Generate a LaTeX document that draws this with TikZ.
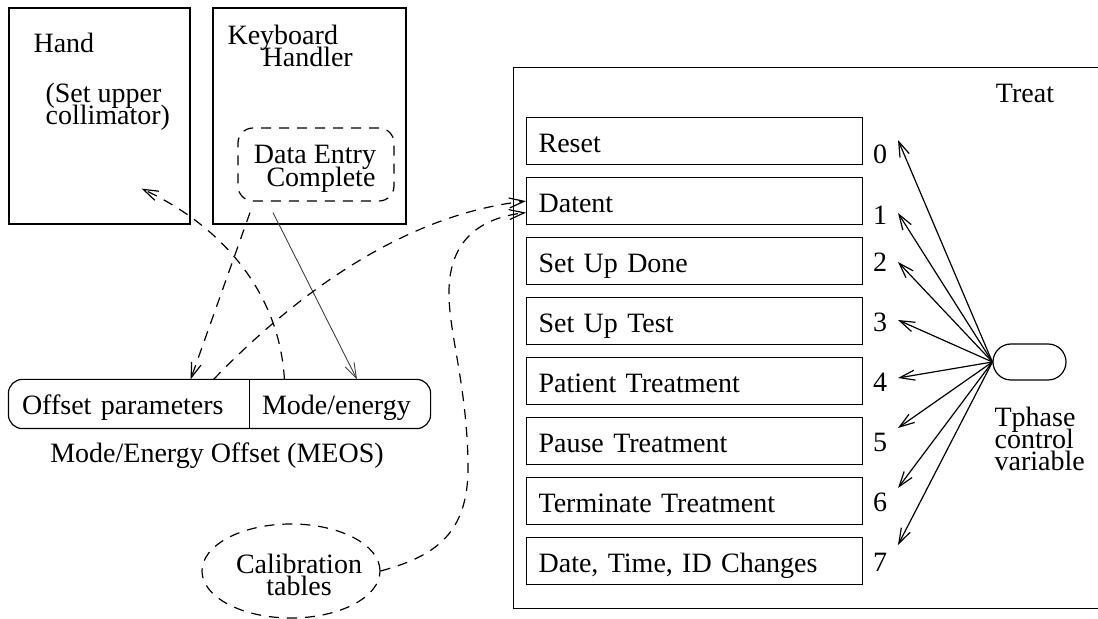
\documentclass[tikz,border=0pt]{standalone}
\usepackage{fontspec}
\setmainfont{Liberation Serif}
\usetikzlibrary{arrows.meta,shapes.geometric}
\lineskiplimit=-20pt

\begin{document}
\begin{tikzpicture}[x=0.5pt,y=-0.5pt,line width=0.6pt,
  every node/.style={inner sep=0pt,font=\fontsize{14}{11.2}\selectfont},
  tip/.style={-{Straight Barb[length=7.5pt,width=5pt]}},
  flow/.style={dash pattern=on 5pt off 4pt},
  phase/.style={draw,anchor=north west,minimum height=23.5pt,text width=156pt,
    inner xsep=6pt,align=left,text height=11.5pt,text depth=0pt}]
  \useasboundingbox (0,0) rectangle (1098,619);
  \clip (0,0) rectangle (1098,619);

  % hand and keyboard tasks
  \node[draw,minimum width=90.5pt,minimum height=108pt] (hand) at (99.5,116) {};
  \node[anchor=base west] (handl) at (33,53) {Hand};
  \node[anchor=west,align=left] (handt) at (45,107) {(Set upper\\collimator)};
  \node[draw,minimum width=96.5pt,minimum height=108pt] (kbd) at (309.5,116) {};
  \node[anchor=west,align=left] (kbdl) at (227,46) {Keyboard\\\hspace*{17.5pt}Handler};
  \node[draw,flow,rounded corners=7.5pt,minimum width=78pt,minimum height=36.5pt] (dec) at (316,164.5) {};
  \node[align=center] (decl) at (315,169) {Data Entry\\\hspace*{6pt}Complete};

  % MEOS
  \node[minimum width=120pt,minimum height=24pt,text width=107pt,inner xsep=6.5pt,
    align=left,text height=11pt,text depth=0pt] (offp) at (129,404) {Offset parameters};
  \node[minimum width=90.5pt,minimum height=24pt,text width=77.5pt,inner xsep=6.5pt,
    align=left,text height=11pt,text depth=0pt] (mode) at (339.5,404) {Mode/energy};
  \draw[rounded corners=7pt] (offp.north west) rectangle (mode.south east);
  \draw (offp.north east) -- (offp.south east);
  \node[anchor=base] (meosl) at (217,463) {Mode/Energy Offset (MEOS)};

  \node[draw,flow,ellipse,minimum width=89pt,minimum height=47pt] (cal) at (291,571) {};
  \node[align=center] (call) at (299,575) {Calibration\\tables};

  % Treat
  \node[draw,anchor=north west,minimum width=300pt,minimum height=270.5pt] (treat) at (513,67) {};
  \node[anchor=base] (treatl) at (1025,103) {Treat};
  \foreach \i/\name in {0/Reset,1/Datent,2/Set Up Done,3/Set Up Test,4/Patient Treatment,
    5/Pause Treatment,6/Terminate Treatment,7/{Date, Time, ID Changes}}
    \node[phase] (p\i) at (526,117+60*\i) {\name};

  \node[draw,rounded corners=9pt,minimum width=36.5pt,minimum height=18pt] (tph) at (1029.5,362) {};
  \node[anchor=west,align=left] (tphl) at (994,439) {Tphase\\control\\variable};
  \foreach \i/\b/\t in {0/164/140,1/225/213,2/272/262,3/332/320,4/392/378,5/452/428,6/512/488,7/572/545} {
    \node[anchor=base] (n\i) at (880,\b) {\i};
    \coordinate (t\i) at (898,\t);
    \draw[tip] (tph.west) -- (t\i);
  }

  % flows
  \draw[flow,tip] ([xshift=18pt]mode.north west) .. controls (280,300) and (230,230)
    .. ([xshift=-24.5pt,yshift=18pt]hand.south east);
  \draw[flow,tip] ([xshift=-33pt,yshift=-5.5pt]dec.south) -- ([xshift=-29.5pt]offp.north east);
  \draw[tip,line width=0.45pt,black!75] ([xshift=-21.5pt,yshift=-5.5pt]dec.south) -- ([xshift=8.75pt]mode.north);
  \draw[flow,tip] ([xshift=-18pt]offp.north east) .. controls (290,300) and (400,215) .. (p1.west);
  \draw[flow,tip] (cal.east) .. controls (440,555) and (470,530) .. (468,460)
    .. controls (466,380) and (448,330) .. (449,290)
    .. controls (450,240) and (480,218) .. ([yshift=-5.75pt]p1.west);
\end{tikzpicture}
\end{document}
